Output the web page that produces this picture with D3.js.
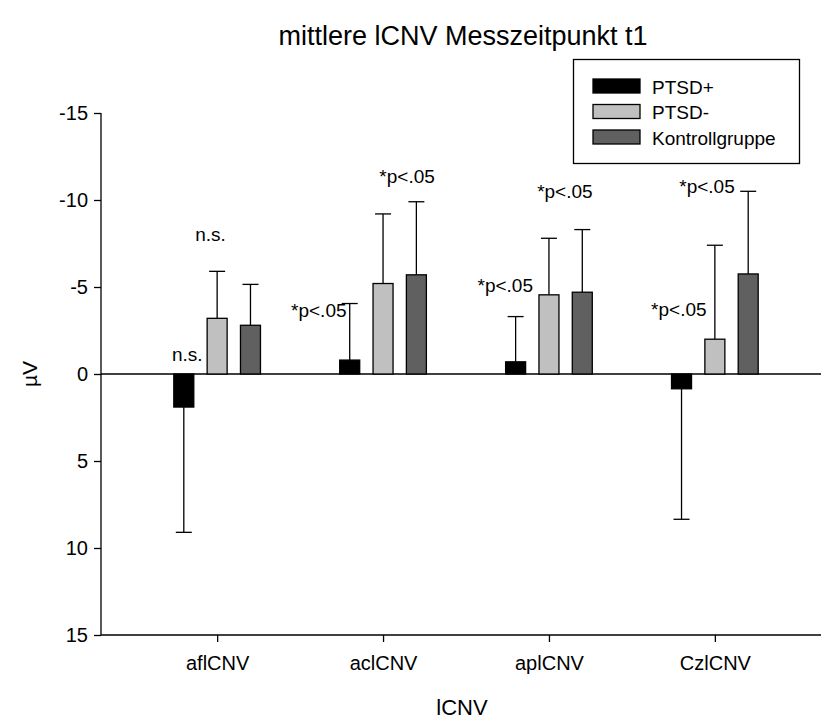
<!DOCTYPE html>
<html><head><meta charset="utf-8">
<script src="https://cdn.jsdelivr.net/npm/d3@7"></script>
<style>body{margin:0;background:#fff;} text{font-family:"Liberation Sans",Arial,sans-serif;fill:#000;}</style>
</head><body>
<svg id="c" width="821" height="719"></svg>
<script>
const categories = ["aflCNV", "aclCNV", "aplCNV", "CzlCNV"];
const seriesNames = ["PTSD+", "PTSD-", "Kontrollgruppe"];
const ptsdPlus = [1.9, -0.8, -0.7, 0.85];
const ptsdMinus = [-3.2, -5.2, -4.55, -2.0];
const kontroll = [-2.8, -5.7, -4.7, -5.75];
const errPtsdPlus = [7.2, 3.25, 2.6, 7.5];
const errPtsdMinus = [2.7, 4.0, 3.25, 5.4];
const errKontroll = [2.35, 4.2, 3.6, 4.75];
const yTicks = [-15, -10, -5, 0, 5, 10, 15];
const annotations = [
  {text: "n.s.", x: 0.96, v: -7.64, anchor: "middle"},
  {text: "n.s.", x: 0.82, v: -0.75, anchor: "middle"},
  {text: "*p<.05", x: 1.78, v: -3.25, anchor: "end"},
  {text: "*p<.05", x: 2.145, v: -11.0, anchor: "middle"},
  {text: "*p<.05", x: 2.904, v: -4.74, anchor: "end"},
  {text: "*p<.05", x: 3.096, v: -10.1, anchor: "middle"},
  {text: "*p<.05", x: 3.95, v: -3.36, anchor: "end"},
  {text: "*p<.05", x: 4.12, v: -10.4, anchor: "end"}
];

(function () {
const means = [ptsdPlus, ptsdMinus, kontroll];
const errs = [errPtsdPlus, errPtsdMinus, errKontroll];
const colors = ["#000000", "#c0c0c0", "#606060"];

const svg = d3.select("#c");
const mLeft = 101, mRight = 831, mTop = 113, mBottom = 635;
const x = d3.scaleLinear().domain([0.3, 4.7]).range([mLeft, mRight]);
const y = d3.scaleLinear().domain([-15, 15]).range([mTop, mBottom]);
const sub = d3.scaleBand().domain(seriesNames).range([-50, 50]);
const barW = 20;

// title
svg.append("text").attr("x", 463).attr("y", 45).attr("text-anchor", "middle")
  .style("font-size", "27px").text("mittlere lCNV Messzeitpunkt t1");

// y axis
const yAxis = d3.axisLeft(y).tickValues(yTicks).tickSize(7).tickPadding(6).tickFormat(d => String(d));
const gy = svg.append("g").attr("transform", `translate(${mLeft},0)`).call(yAxis);
gy.select(".domain").attr("d", `M0,${mTop}V${mBottom}`).attr("stroke", "#000").attr("stroke-width", 1.3);
gy.selectAll(".tick line").attr("stroke", "#000").attr("stroke-width", 1.3);
gy.selectAll(".tick text").style("font-size", "20px").style("font-family", "Liberation Sans, Arial, sans-serif");

// x axis
const xAxis = d3.axisBottom(x).tickValues([1, 2, 3, 4]).tickSize(7).tickPadding(14)
  .tickFormat(d => categories[d - 1]);
const gx = svg.append("g").attr("transform", `translate(0,${mBottom})`).call(xAxis);
gx.select(".domain").attr("d", `M${mLeft},0H${mRight}`).attr("stroke", "#000").attr("stroke-width", 1.3);
gx.selectAll(".tick line").attr("stroke", "#000").attr("stroke-width", 1.3);
gx.selectAll(".tick text").style("font-size", "20px").style("font-family", "Liberation Sans, Arial, sans-serif");

// zero line
svg.append("line").attr("x1", mLeft).attr("x2", mRight).attr("y1", y(0)).attr("y2", y(0))
  .attr("stroke", "#000").attr("stroke-width", 1.3);

// bars + error bars
seriesNames.forEach((s, si) => {
  const data = categories.map((c, ci) => ({ci, v: means[si][ci], e: errs[si][ci]}));
  const g = svg.append("g");
  data.forEach(d => {
    const cx = x(d.ci + 1) + sub(s) + sub.bandwidth() / 2;
    const end = d.v + Math.sign(d.v) * d.e;
    g.append("line").attr("x1", cx).attr("x2", cx).attr("y1", y(d.v)).attr("y2", y(end))
      .attr("stroke", "#000").attr("stroke-width", 1.3);
    g.append("line").attr("x1", cx - 8).attr("x2", cx + 8).attr("y1", y(end)).attr("y2", y(end))
      .attr("stroke", "#000").attr("stroke-width", 1.3);
  });
  g.selectAll("rect").data(data).join("rect")
    .attr("x", d => x(d.ci + 1) + sub(s) + sub.bandwidth() / 2 - barW / 2)
    .attr("width", barW)
    .attr("y", d => Math.min(y(d.v), y(0)))
    .attr("height", d => Math.abs(y(d.v) - y(0)))
    .attr("fill", colors[si]).attr("stroke", "#000").attr("stroke-width", 1.3);
});

// annotations
svg.selectAll("text.ann").data(annotations).join("text").attr("class", "ann")
  .attr("x", d => x(d.x)).attr("y", d => y(d.v)).attr("text-anchor", d => d.anchor)
  .style("font-size", "19px").text(d => d.text);

// axis titles
svg.append("text").attr("transform", `translate(37,374) rotate(-90)`).attr("text-anchor", "middle")
  .style("font-size", "21px").text("µV");
svg.append("text").attr("x", 462).attr("y", 715).attr("text-anchor", "middle")
  .style("font-size", "22px").text("lCNV");

// legend
const lg = svg.append("g");
lg.append("rect").attr("x", 573.5).attr("y", 59.5).attr("width", 226).attr("height", 104)
  .attr("fill", "#fff").attr("stroke", "#000").attr("stroke-width", 1.3);
seriesNames.forEach((s, i) => {
  lg.append("rect").attr("x", 593).attr("y", 79 + i * 25.5).attr("width", 47).attr("height", 14)
    .attr("fill", colors[i]).attr("stroke", "#000").attr("stroke-width", 1.3);
  lg.append("text").attr("x", 652).attr("y", 93.5 + i * 25.5).style("font-size", "19px").text(s);
});
})();
</script>
</body></html>
